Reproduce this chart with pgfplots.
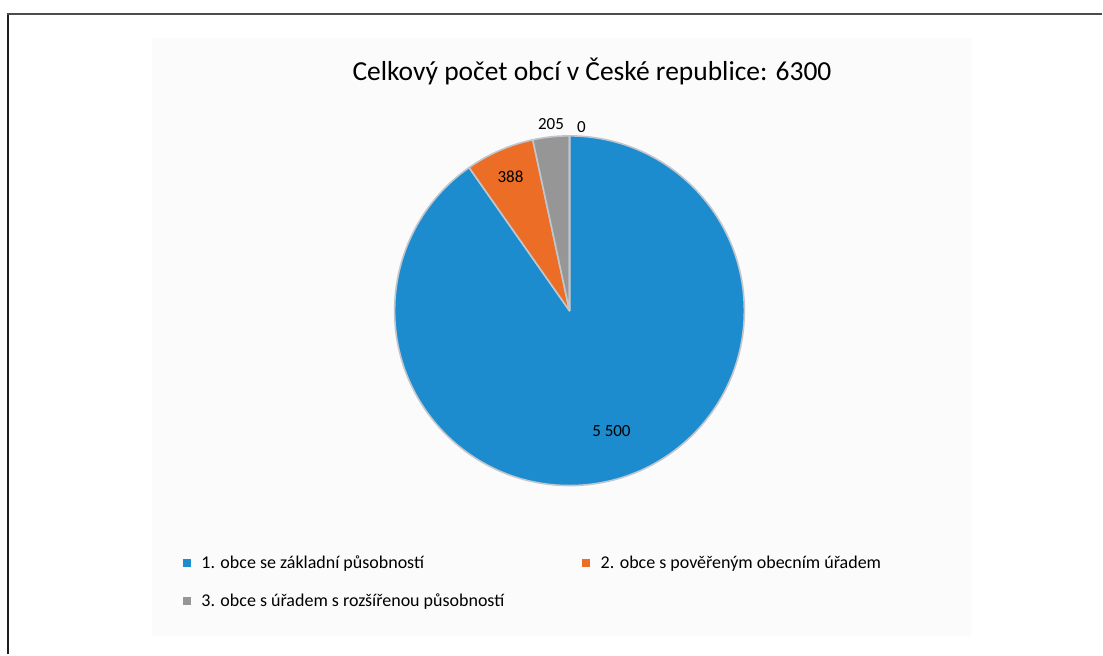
\documentclass[border=0pt]{standalone}
\usepackage{pgfplots}
\pgfplotsset{compat=1.18}
\usepackage{pgfplotstable}
\usepackage{fontspec}
\setmainfont{Carlito}
\definecolor{pieblue}{RGB}{28,140,206}
\definecolor{pieorange}{RGB}{236,110,38}
\definecolor{piegray}{RGB}{150,150,150}
\definecolor{edgegray}{RGB}{192,198,204}
\definecolor{bgfaint}{RGB}{251,251,251}

\pgfplotstableread{
id value
1 5500
2 388
3 205
4 0
}\piedata
\pgfplotstablegetelem{0}{value}\of\piedata \let\va\pgfplotsretval
\pgfplotstablegetelem{1}{value}\of\piedata \let\vb\pgfplotsretval
\pgfplotstablegetelem{2}{value}\of\piedata \let\vc\pgfplotsretval
\pgfplotstablegetelem{3}{value}\of\piedata \let\vd\pgfplotsretval
\pgfmathsetmacro\tot{\va+\vb+\vc+\vd}
\pgfmathsetmacro\aA{90}
\pgfmathsetmacro\aB{\aA-360*(\va/\tot)}
\pgfmathsetmacro\aC{\aB-360*(\vb/\tot)}
\pgfmathsetmacro\aD{\aC-360*(\vc/\tot)}
\pgfmathsetmacro\aE{\aD-360*(\vd/\tot)}
\def\cx{570}
\def\cy{344}
\def\R{175}

\begin{document}
\begin{tikzpicture}
\begin{axis}[
  width=1103pt, height=655pt, scale only axis,
  xmin=0, xmax=1103, ymin=0, ymax=655,
  hide axis, clip=false,
  legend columns=2,
  legend cell align=left,
  legend style={at={(axis cs:180,103)}, anchor=north west, draw=none, fill=none,
    font=\fontsize{18}{21}\selectfont, row sep=20pt,
    /tikz/every odd column/.append style={column sep=9pt},
    /tikz/every even column/.append style={column sep=76pt}},
  legend image code/.code={\fill[#1] (0pt,-3.5pt) rectangle (7pt,3.5pt);},
]
% bounding box of the whole picture
\addplot[draw=none, forget plot] coordinates {(0,0) (1103,655)};
% faint plot-area background
\addplot[fill=bgfaint, draw=none, forget plot] coordinates {(152,18) (972,18) (972,617) (152,617)} -- cycle;
% frame lines
\addplot[draw=black!88, line width=2pt, forget plot] coordinates {(7.7,0) (7.7,641.7)};
\addplot[draw=black!70, line width=2pt, forget plot] coordinates {(6.7,640.7) (1103,640.7)};
% pie slices
\filldraw[fill=pieblue, draw=edgegray, line width=1.6pt, line join=round]
  (axis cs:\cx,\cy) -- (axis cs:{\cx+\R*cos(\aA)},{\cy+\R*sin(\aA)}) arc[start angle=\aA, end angle=\aB, radius=\R pt] -- cycle;
\filldraw[fill=pieorange, draw=edgegray, line width=1.6pt, line join=round]
  (axis cs:\cx,\cy) -- (axis cs:{\cx+\R*cos(\aB)},{\cy+\R*sin(\aB)}) arc[start angle=\aB, end angle=\aC, radius=\R pt] -- cycle;
\filldraw[fill=piegray, draw=edgegray, line width=1.6pt, line join=round]
  (axis cs:\cx,\cy) -- (axis cs:{\cx+\R*cos(\aC)},{\cy+\R*sin(\aC)}) arc[start angle=\aC, end angle=\aD, radius=\R pt] -- cycle;
\draw[draw=edgegray, line width=1.6pt] (axis cs:\cx,\cy) -- (axis cs:{\cx+\R*cos(\aE)},{\cy+\R*sin(\aE)});
% data labels
\node[font=\fontsize{17}{20}\selectfont] at (axis cs:612,224) {5 500};
\node[font=\fontsize{17}{20}\selectfont] at (axis cs:511,478) {388};
\node[font=\fontsize{17}{20}\selectfont] at (axis cs:551.5,531) {205};
\node[font=\fontsize{17}{20}\selectfont] at (axis cs:582,527.5) {0};
% title
\node[font=\fontsize{27.5}{32}\selectfont, anchor=base] at (axis cs:592.5,574) {Celkový počet obcí v České republice: 6300};
% legend
\addlegendimage{pieblue}
\addlegendentry{1. obce se základní působností}
\addlegendimage{pieorange}
\addlegendentry{2. obce s pověřeným obecním úřadem}
\addlegendimage{piegray}
\addlegendentry{3. obce s úřadem s rozšířenou působností}
\end{axis}
\end{tikzpicture}
\end{document}
